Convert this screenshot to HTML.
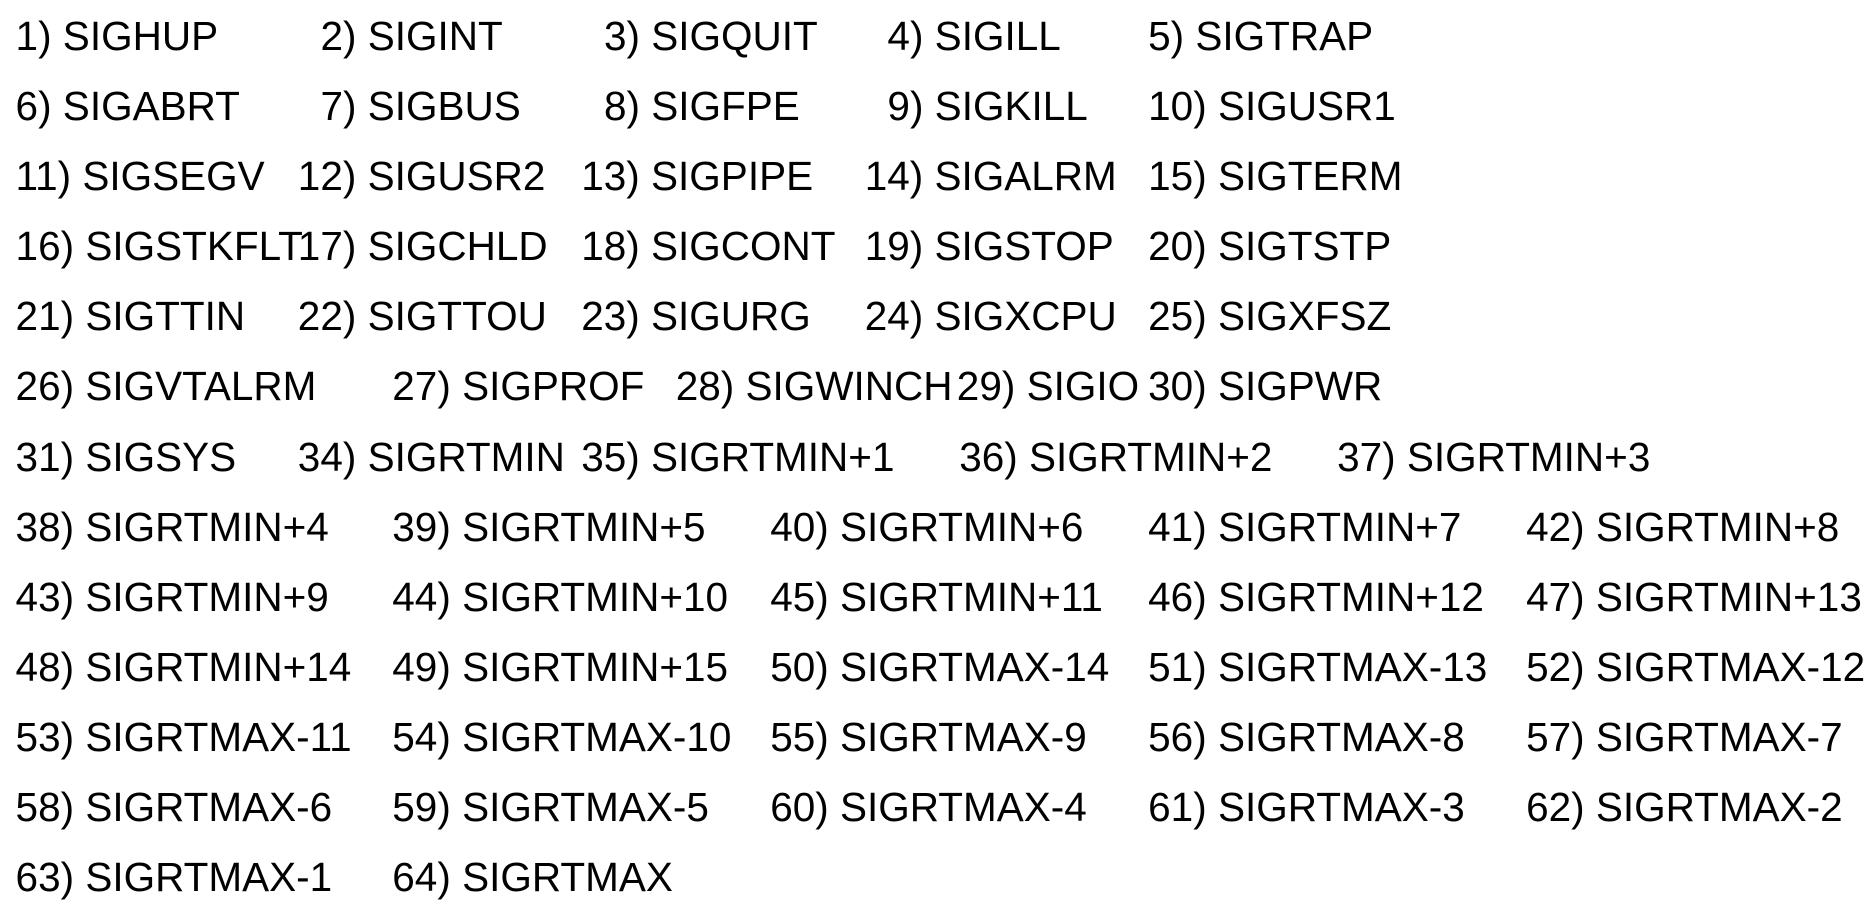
<!DOCTYPE html>
<html><head><meta charset="utf-8">
<style>
html,body{margin:0;padding:0;background:#fff;}
#c{position:relative;width:1876px;height:918px;overflow:hidden;font-family:"Liberation Sans",sans-serif;font-size:40.5px;color:#000;}
.s{position:absolute;white-space:nowrap;line-height:46px;height:46px;}
</style></head>
<body>
<div id="c"></div>
<script>
const K=1.196;
const items=[
[0,13,"1) SIGHUP"],[0,268,"2) SIGINT"],[0,505,"3) SIGQUIT"],[0,742,"4) SIGILL"],[0,960,"5) SIGTRAP"],
[1,13,"6) SIGABRT"],[1,268,"7) SIGBUS"],[1,505,"8) SIGFPE"],[1,742,"9) SIGKILL"],[1,960,"10) SIGUSR1"],
[2,13,"11) SIGSEGV"],[2,249,"12) SIGUSR2"],[2,486,"13) SIGPIPE"],[2,723,"14) SIGALRM"],[2,960,"15) SIGTERM"],
[3,13,"16) SIGSTKFLT"],[3,249,"17) SIGCHLD"],[3,486,"18) SIGCONT"],[3,723,"19) SIGSTOP"],[3,960,"20) SIGTSTP"],
[4,13,"21) SIGTTIN"],[4,249,"22) SIGTTOU"],[4,486,"23) SIGURG"],[4,723,"24) SIGXCPU"],[4,960,"25) SIGXFSZ"],
[5,13,"26) SIGVTALRM"],[5,328,"27) SIGPROF"],[5,565,"28) SIGWINCH"],[5,800,"29) SIGIO"],[5,960,"30) SIGPWR"],
[6,13,"31) SIGSYS"],[6,249,"34) SIGRTMIN"],[6,486,"35) SIGRTMIN+1"],[6,802,"36) SIGRTMIN+2"],[6,1118,"37) SIGRTMIN+3"],
[7,13,"38) SIGRTMIN+4"],[7,328,"39) SIGRTMIN+5"],[7,644,"40) SIGRTMIN+6"],[7,960,"41) SIGRTMIN+7"],[7,1276,"42) SIGRTMIN+8"],
[8,13,"43) SIGRTMIN+9"],[8,328,"44) SIGRTMIN+10"],[8,644,"45) SIGRTMIN+11"],[8,960,"46) SIGRTMIN+12"],[8,1276,"47) SIGRTMIN+13"],
[9,13,"48) SIGRTMIN+14"],[9,328,"49) SIGRTMIN+15"],[9,644,"50) SIGRTMAX-14"],[9,960,"51) SIGRTMAX-13"],[9,1276,"52) SIGRTMAX-12"],
[10,13,"53) SIGRTMAX-11"],[10,328,"54) SIGRTMAX-10"],[10,644,"55) SIGRTMAX-9"],[10,960,"56) SIGRTMAX-8"],[10,1276,"57) SIGRTMAX-7"],
[11,13,"58) SIGRTMAX-6"],[11,328,"59) SIGRTMAX-5"],[11,644,"60) SIGRTMAX-4"],[11,960,"61) SIGRTMAX-3"],[11,1276,"62) SIGRTMAX-2"],
[12,13,"63) SIGRTMAX-1"],[12,328,"64) SIGRTMAX"]
];
const c=document.getElementById('c');
items.forEach(function(it){
  const d=document.createElement('div');
  d.className='s';
  
  
  d.style.left=(it[1]*K)+'px';
  d.style.top=(35.9+it[0]*70.1-23)+'px';
  d.textContent=it[2];
  c.appendChild(d);
});
</script>
</body></html>
